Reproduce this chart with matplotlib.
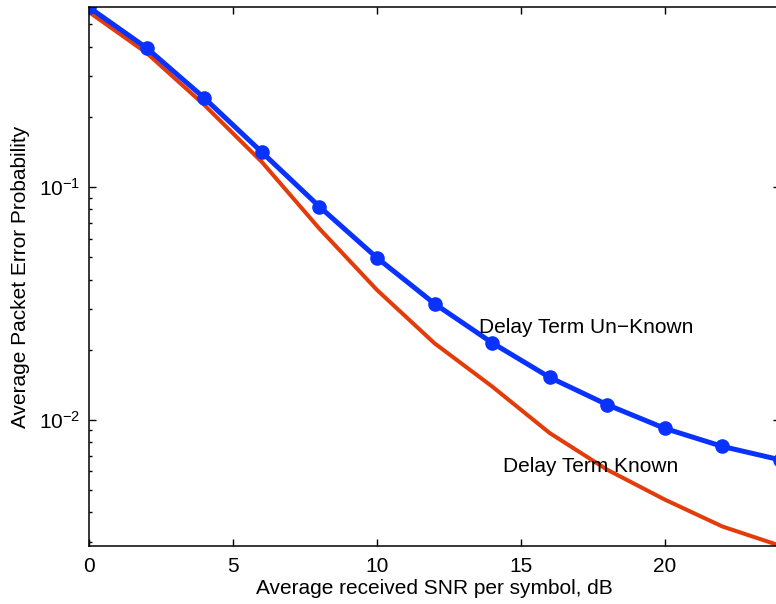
import numpy as np
import matplotlib
matplotlib.use('Agg')
import matplotlib.pyplot as plt
from matplotlib.ticker import LogLocator, NullFormatter

plt.rcParams['font.family'] = ['Liberation Sans', 'DejaVu Sans']
plt.rcParams['mathtext.fontset'] = 'custom'
plt.rcParams['mathtext.rm'] = 'Liberation Sans'

# SNR grid in dB, one sample every 2 dB
snr_db = [0, 2, 4, 6, 8, 10, 12, 14, 16, 18, 20, 22, 24]

# packet error probability, delay term unknown (with markers)
pep_unknown = [0.59, 0.395, 0.241, 0.141, 0.0823, 0.0496, 0.0315, 0.0214,
               0.0152, 0.0116, 0.00918, 0.00768, 0.00673]

# packet error probability, delay term known
pep_known = [0.563, 0.376, 0.225, 0.128, 0.0662, 0.0361, 0.0213, 0.0139,
             0.00877, 0.0061, 0.00454, 0.00348, 0.00288]

blue = '#0a32ff'
red = '#e33c0a'
fs = 15

fig = plt.figure(figsize=(7.76, 6.04), dpi=100)
ax = fig.add_axes([0.1147, 0.096, 0.8905, 0.8924])

ax.plot(snr_db, pep_known, '-', color=red, lw=2.9)
ax.plot(snr_db, pep_unknown, '-o', color=blue, lw=3.6, ms=9.5,
        markeredgecolor=blue)

ax.set_yscale('log')
ax.set_xlim(0, 24)
ax.set_ylim(0.00287, 0.592)
ax.set_xticks([0, 5, 10, 15, 20])
ax.yaxis.set_major_locator(LogLocator(base=10, numticks=10))
ax.yaxis.set_minor_locator(LogLocator(base=10, subs=np.arange(2, 10), numticks=10))
ax.yaxis.set_minor_formatter(NullFormatter())

ax.tick_params(which='both', direction='in', top=True, right=True,
               labelsize=fs, width=1.0, color='black')
ax.tick_params(which='major', length=5)
ax.tick_params(which='minor', length=2.5)
ax.tick_params(axis='x', pad=8)
ax.tick_params(axis='y', pad=6)
for sp in ax.spines.values():
    sp.set_linewidth(1.1)

ax.set_xlabel('Average received SNR per symbol, dB', fontsize=fs, labelpad=2)
ax.set_ylabel('Average Packet Error Probability', fontsize=fs, labelpad=7)

ax.text(13.54, 0.0236, 'Delay Term Un\u2212Known', fontsize=fs,
        ha='left', va='baseline')
ax.text(14.375, 0.00598, 'Delay Term Known', fontsize=fs,
        ha='left', va='baseline')

fig.savefig('out.png', dpi=100)
